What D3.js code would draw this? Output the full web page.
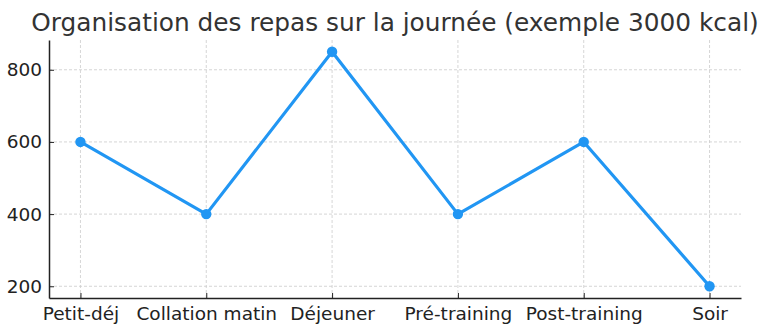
<!DOCTYPE html>
<html>
<head>
<meta charset="utf-8">
<script src="https://cdn.jsdelivr.net/npm/d3@7"></script>
<style>
  body { margin: 0; background: #fff; }
  svg { font-family: "DejaVu Sans", sans-serif; }
</style>
</head>
<body>
<svg id="chart" width="768" height="335"></svg>
<script>
// data
var meals = ["Petit-déj", "Collation matin", "Déjeuner", "Pré-training", "Post-training", "Soir"];
var kcal = [600, 400, 850, 400, 600, 200];
var yTicks = [200, 400, 600, 800];
var title = "Organisation des repas sur la journée (exemple 3000 kcal)";

var svg = d3.select("#chart");
var mLeft = 49, mRight = 741, mTop = 40, mBottom = 298;

var x = d3.scaleLinear().domain([-0.25, meals.length - 0.75]).range([mLeft, mRight]);
var y = d3.scaleLinear().domain([167.5, 882.5]).range([mBottom, mTop]);

// grid
svg.append("g").selectAll("line").data(yTicks).join("line")
  .attr("x1", mLeft).attr("x2", mRight)
  .attr("y1", d => y(d)).attr("y2", d => y(d))
  .attr("stroke", "#cccccc").attr("stroke-width", 0.8).attr("stroke-dasharray", "3,2");
svg.append("g").selectAll("line").data(meals).join("line")
  .attr("x1", (d, i) => x(i)).attr("x2", (d, i) => x(i))
  .attr("y1", mTop).attr("y2", mBottom)
  .attr("stroke", "#cccccc").attr("stroke-width", 0.8).attr("stroke-dasharray", "3,2");

// axes
var xAxis = d3.axisBottom(x).tickValues(d3.range(meals.length))
  .tickFormat(i => meals[i]).tickSizeInner(-5).tickSizeOuter(0).tickPadding(9);
var yAxis = d3.axisLeft(y).tickValues(yTicks).tickSizeInner(-5).tickSizeOuter(0).tickPadding(7);

var gx = svg.append("g").attr("transform", "translate(0," + mBottom + ")").call(xAxis);
var gy = svg.append("g").attr("transform", "translate(" + mLeft + ",0)").call(yAxis);
[gx, gy].forEach(g => {
  g.select(".domain").attr("stroke", "#222").attr("stroke-width", 1.5);
  g.selectAll(".tick line").attr("stroke", "#222").attr("stroke-width", 1);
  g.selectAll(".tick text").attr("fill", "#222").style("font-size", "18.5px").style("font-family", "DejaVu Sans");
});
gx.selectAll(".tick text").attr("dy", "0.71em");

// line
var line = d3.line().x((d, i) => x(i)).y(d => y(d));
svg.append("path").datum(kcal)
  .attr("d", line).attr("fill", "none")
  .attr("stroke", "#2196f3").attr("stroke-width", 3.2).attr("stroke-linejoin", "round");
svg.append("g").selectAll("circle").data(kcal).join("circle")
  .attr("cx", (d, i) => x(i)).attr("cy", d => y(d)).attr("r", 5.2)
  .attr("fill", "#2196f3");

// title
svg.append("text")
  .attr("x", (mLeft + mRight) / 2).attr("y", 31)
  .attr("text-anchor", "middle")
  .attr("fill", "#333")
  .style("font-size", "24.8px")
  .text(title);
</script>
</body>
</html>
